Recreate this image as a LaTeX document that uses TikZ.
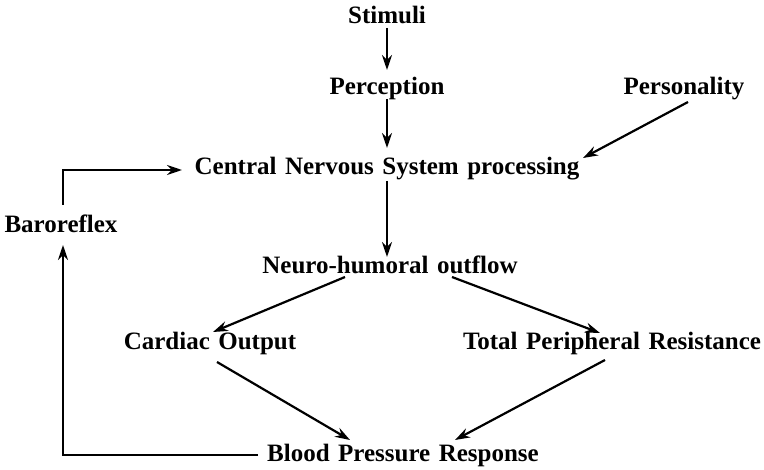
\documentclass[tikz,border=0pt]{standalone}
\usepackage{fontspec}
\setmainfont{Liberation Serif}
\usetikzlibrary{arrows.meta,calc}
\newcommand\mylblfont{\fontsize{25}{27}\selectfont\bfseries\spaceskip 8.5pt\relax}
\tikzset{
  lbl/.style={inner sep=0pt, anchor=base, font=\mylblfont},
  conn/.style={line width=2.2pt, -{Stealth[length=15pt,width=10pt,inset=5pt]}},
}
\begin{document}
\begin{tikzpicture}[x=1pt,y=-1pt]
\useasboundingbox (0,0) rectangle (764,470);
\node[lbl] (stim) at (387,24) {Stimuli};
\node[lbl] (perc) at (387,95) {Perception};
\node[lbl] (pers) at (684,95) {Personality};
\node[lbl] (cns) at (387,175) {Central Nervous System processing};
\node[lbl] (baro) at (61,233) {Baroreflex};
\node[lbl] (neuro) at (390,274) {Neuro-humoral outflow};
\node[lbl] (co) at (210,350) {Cardiac Output};
\node[lbl] (tpr) at (612,350) {Total Peripheral Resistance};
\node[lbl] (bpr) at (403,462) {Blood Pressure Response};
\coordinate (bl) at (63,455);
\coordinate (tl) at (63,170);
\draw[conn] ($(stim.base)+(0,4)$) -- ($(perc.base)+(0,-25)$);
\draw[conn] ($(perc.base)+(0,4)$) -- ($(cns.base)+(0,-27)$);
\draw[conn] ($(cns.base)+(0,6)$) -- ($(neuro.base)+(-3,-17)$);
\draw[conn] ($(pers.base)+(4,7)$) -- ($(cns.base)+(196,-17)$);
\draw[conn] ($(neuro.base)+(-45,3)$) -- ($(co.base)+(3,-18)$);
\draw[conn] ($(neuro.base)+(62,3)$) -- ($(tpr.base)+(-12,-17)$);
\draw[conn] ($(co.base)+(7,12)$) -- ($(bpr.base)+(-53,-22)$);
\draw[conn] ($(tpr.base)+(-7,10)$) -- ($(bpr.base)+(52,-22)$);
\draw[conn] ($(bpr.base)+(-145,-7)$) -- (bl) -- ($(baro.base)+(2,12)$);
\draw[conn] ($(baro.base)+(2,-28)$) -- (tl) -- ($(cns.base)+(-205,-5)$);
\end{tikzpicture}
\end{document}
